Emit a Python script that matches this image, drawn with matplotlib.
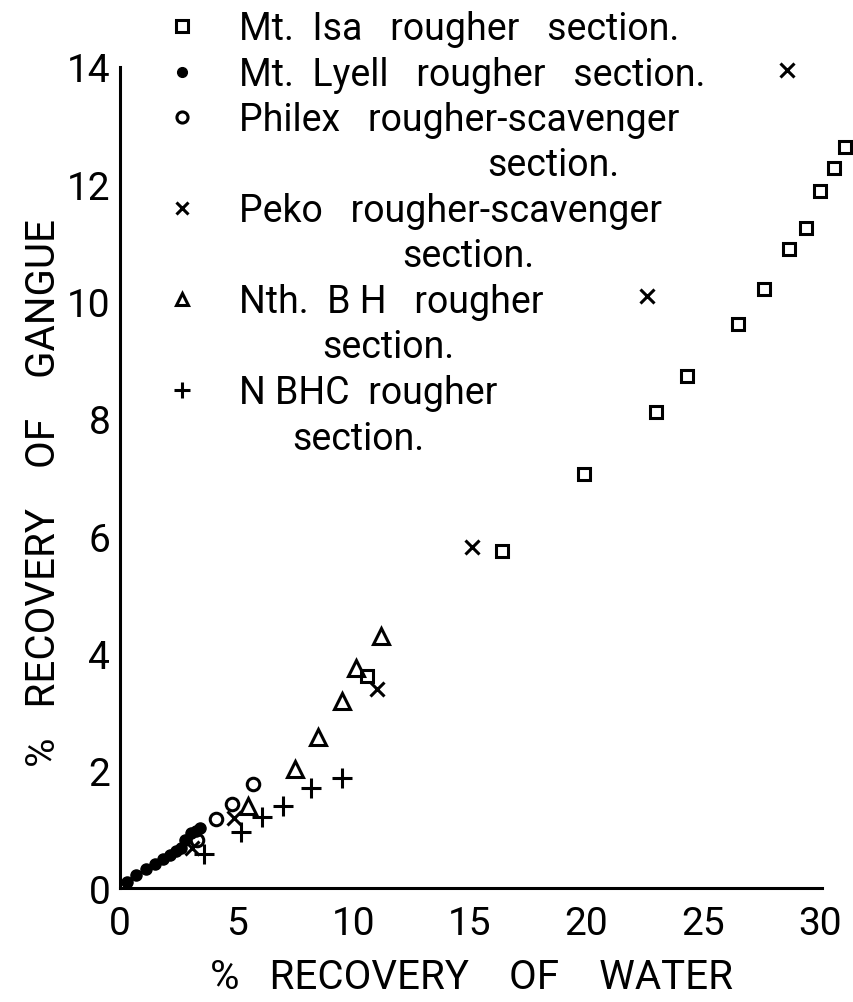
import numpy as np
import matplotlib
matplotlib.use("Agg")
import matplotlib.pyplot as plt
from matplotlib.lines import Line2D

# --- data (x = % recovery of water, y = % recovery of gangue)
isa_x = [10.6, 16.4, 19.9, 23.0, 24.3, 26.5, 27.6, 28.7, 29.4, 30.0, 30.6, 31.1]
isa_y = [3.62, 5.75, 7.06, 8.12, 8.73, 9.61, 10.21, 10.90, 11.25, 11.89, 12.27, 12.64]

lyell_x = [0.3, 0.7, 1.1, 1.5, 1.85, 2.15, 2.4, 2.6, 2.8, 3.05, 3.25, 3.45]
lyell_y = [0.10, 0.22, 0.32, 0.41, 0.50, 0.56, 0.63, 0.68, 0.82, 0.93, 0.98, 1.03]

philex_x = [3.3, 4.1, 4.8, 5.7]
philex_y = [0.81, 1.18, 1.44, 1.77]

peko_x = [3.1, 4.9, 11.0, 15.1, 22.6, 28.6]
peko_y = [0.68, 1.19, 3.40, 5.81, 10.10, 13.95]

nbh_x = [5.5, 7.5, 8.5, 9.5, 10.1, 11.2]
nbh_y = [1.40, 2.03, 2.57, 3.19, 3.76, 4.30]

nbhc_x = [3.6, 5.2, 6.1, 7.0, 8.2, 9.5]
nbhc_y = [0.58, 0.95, 1.21, 1.40, 1.70, 1.87]

legend_lines = [
    ("Mt.  Isa   rougher   section.", None),
    ("Mt.  Lyell   rougher   section.", None),
    ("Philex   rougher-scavenger", "section."),
    ("Peko   rougher-scavenger", "section."),
    ("Nth.  B H   rougher", "section."),
    ("N BHC  rougher", "section."),
]

W, H = 854, 1003
plt.rcParams["font.family"] = ["Roboto", "DejaVu Sans"]
fig = plt.figure(figsize=(W / 100, H / 100), dpi=100)

def fx(px):
    return px / W

def fy(py):
    return 1 - py / H

ax = fig.add_axes([fx(120), fy(889), fx(822) - fx(120), fy(68) - fy(889)])

mk = dict(linestyle="none", color="black", clip_on=False)
ax.plot(isa_x, isa_y, marker="s", ms=9, mfc="none", mew=2.2, **mk)
ax.plot(lyell_x, lyell_y, marker="o", ms=8, mfc="black", mew=1, **mk)
ax.plot(philex_x, philex_y, marker="o", ms=9, mfc="none", mew=2.2, **mk)
ax.plot(peko_x, peko_y, marker="x", ms=10, mew=2.2, **mk)
ax.plot(nbh_x, nbh_y, marker="^", ms=12, mfc="none", mew=2.2, **mk)
ax.plot(nbhc_x, nbhc_y, marker="+", ms=14, mew=2.2, **mk)

ax.set_xlim(0, 30.1)
ax.set_ylim(0, 14)
ax.set_xticks([0, 5, 10, 15, 20, 25, 30])
ax.set_yticks([0, 2, 4, 6, 8, 10, 12, 14])
for s in ["top", "right"]:
    ax.spines[s].set_visible(False)
for s in ["left", "bottom"]:
    ax.spines[s].set_linewidth(2.2)
ax.tick_params(length=0, labelsize=28)
ax.tick_params(axis="x", pad=12)
ax.tick_params(axis="y", pad=7)

fig.text(fx(472), fy(978), "%   RECOVERY    OF    WATER", ha="center", va="center",
         fontsize=29)
fig.text(fx(44), fy(493), "%   RECOVERY    OF    GANGUE", ha="center", va="center",
         rotation=90, fontsize=29)

# legend, drawn by hand like the original
leg_markers = [
    dict(marker="s", ms=8, mfc="none", mew=2.2),
    dict(marker="o", ms=7, mfc="black", mew=1),
    dict(marker="o", ms=8, mfc="none", mew=2.2),
    dict(marker="x", ms=8, mew=2.2),
    dict(marker="^", ms=9, mfc="none", mew=2.2),
    dict(marker="+", ms=12, mew=2.2),
]
cont_x = [None, None, 487, 402, 322, 292]
row = 0
for i, (first, second) in enumerate(legend_lines):
    base = 40 + 45.5 * row
    fig.add_artist(Line2D([fx(182)], [fy(base - 13)], transform=fig.transFigure,
                          linestyle="none", color="black", **leg_markers[i]))
    fig.text(fx(239), fy(base), first, fontsize=27, va="baseline", ha="left")
    row += 1
    if second:
        base = 40 + 45.5 * row
        fig.text(fx(cont_x[i]), fy(base), second, fontsize=27, va="baseline", ha="left")
        row += 1

fig.savefig("out.png", dpi=100)
